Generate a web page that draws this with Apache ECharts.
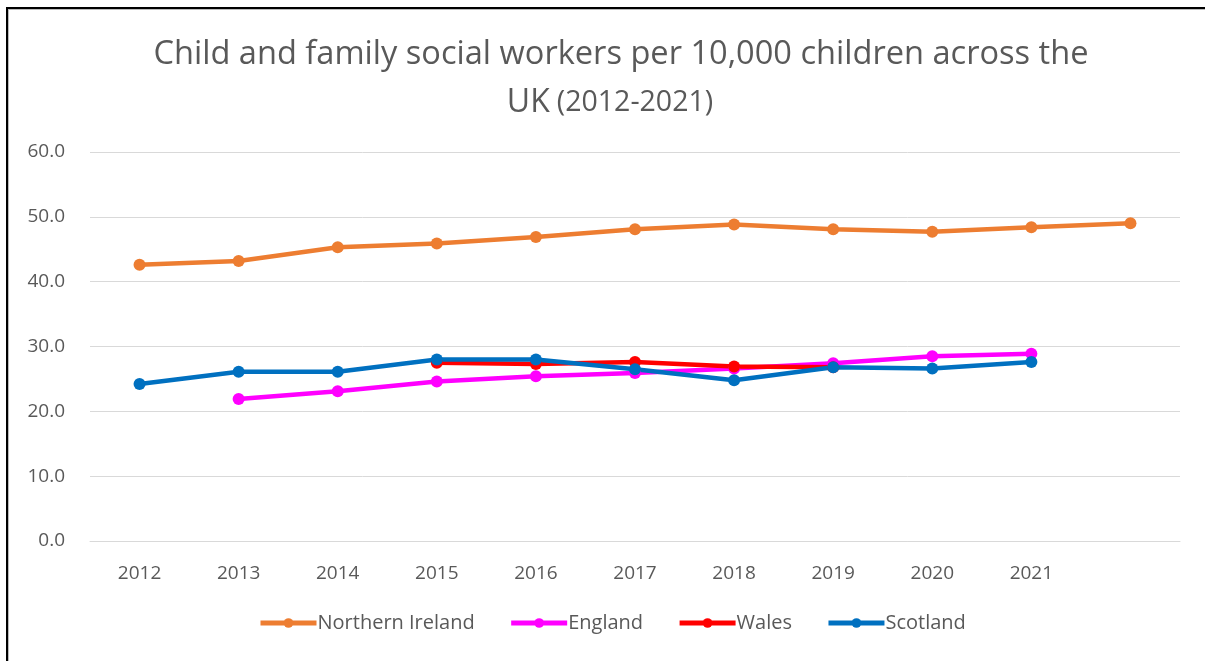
<!DOCTYPE html>
<html>
<head>
<meta charset="utf-8">
<script src="https://cdn.jsdelivr.net/npm/echarts@6/dist/echarts.min.js"></script>
<style>
  html, body { margin: 0; padding: 0; background: #fff; }
  #main { position: absolute; left: 0; top: 0; width: 1205px; height: 661px; }
  #frame {
    position: absolute; left: 6px; top: 7px; width: 1205px; height: 661px;
    border-left: 2px solid #000; border-top: 2px solid #000;
    box-shadow: inset 1px 1px 0 #bbb; pointer-events: none;
  }
</style>
</head>
<body>
<div id="main"></div>
<div id="frame"></div>
<script>
var years = ["2012", "2013", "2014", "2015", "2016", "2017", "2018", "2019", "2020", "2021", ""];
var northernIreland = [42.6, 43.2, 45.3, 45.9, 46.9, 48.1, 48.8, 48.1, 47.7, 48.4, 49.0];
var england = [null, 21.9, 23.1, 24.6, 25.4, 25.9, 26.6, 27.4, 28.5, 28.9, null];
var wales = [null, null, null, 27.5, 27.3, 27.6, 26.9, 26.8, null, null, null];
var scotland = [24.2, 26.1, 26.1, 28.0, 28.0, 26.5, 24.8, 26.8, 26.6, 27.6, null];

var textColor = "#595959";
var font = "'Open Sans', sans-serif";

function makeSeries(name, data, color) {
  return {
    name: name,
    type: "line",
    data: data,
    symbol: "circle",
    symbolSize: 12,
    lineStyle: { width: 4.5, color: color },
    itemStyle: { color: color },
    connectNulls: false
  };
}

var option = {
  backgroundColor: "#fff",
  animation: false,
  title: [
    {
      text: "Child and family social workers per 10,000 children across the",
      left: 616,
      textAlign: "center",
      top: 26,
      textStyle: {
        fontFamily: font, fontWeight: "normal", fontSize: 32.6, color: textColor, lineHeight: 48
      }
    },
    {
      text: "{b|UK}{s|(2012-2021)}",
      left: 605,
      textAlign: "center",
      top: 74,
      textStyle: {
        fontFamily: font, fontWeight: "normal", fontSize: 32, color: textColor, lineHeight: 48,
        rich: {
          b: { fontFamily: font, fontSize: 32, color: textColor, lineHeight: 48, padding: [0, 7, 0, 0] },
          s: { fontFamily: font, fontSize: 28.5, color: textColor, lineHeight: 48 }
        }
      }
    }
  ],
  legend: {
    bottom: 23,
    left: 253,
    itemWidth: 56,
    itemHeight: 12,
    itemGap: 34,
    lineStyle: { width: 5 },
    textStyle: { fontFamily: font, fontSize: 20, color: textColor, padding: [0, 0, 0, -4] },
    data: ["Northern Ireland", "England", "Wales", "Scotland"]
  },
  grid: { left: 90, right: 25, top: 152, bottom: 120 },
  xAxis: {
    type: "category",
    data: years,
    boundaryGap: true,
    axisLine: { show: true, lineStyle: { color: "#d9d9d9", width: 1 } },
    axisTick: { show: false },
    axisLabel: { fontFamily: font, fontSize: 19, color: textColor, margin: 23 }
  },
  yAxis: {
    type: "value",
    min: 0,
    max: 60,
    interval: 10,
    axisLine: { show: false },
    axisTick: { show: false },
    splitLine: { lineStyle: { color: "#d9d9d9", width: 1 } },
    axisLabel: {
      fontFamily: font, fontSize: 19, color: textColor, margin: 25,
      formatter: function (v) { return v.toFixed(1); }
    }
  },
  series: [
    makeSeries("Northern Ireland", northernIreland, "#ED7D31"),
    makeSeries("England", england, "#FF00FF"),
    makeSeries("Wales", wales, "#FF0000"),
    makeSeries("Scotland", scotland, "#0070C0")
  ]
};

var myChart = echarts.init(document.getElementById("main"));
myChart.setOption(option);
</script>
</body>
</html>
